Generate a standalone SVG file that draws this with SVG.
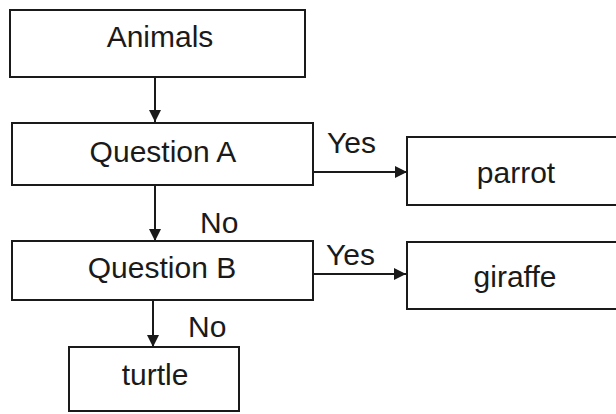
<svg xmlns="http://www.w3.org/2000/svg" width="616" height="414" viewBox="0 0 616 414">
<defs>
<marker id="ah" viewBox="0 0 12 12" refX="12" refY="6" markerWidth="12" markerHeight="12" markerUnits="userSpaceOnUse" orient="auto">
<path d="M0,0 L12,6 L0,12 Z" fill="#1a1a1a"/>
</marker>
</defs>
<style>
.box{fill:#ffffff;stroke:#1a1a1a;stroke-width:2}
.t{font-family:"Liberation Sans",Arial,sans-serif;font-size:30px;fill:#1a1a1a}
.c{text-anchor:middle}
.ln{stroke:#1a1a1a;stroke-width:2;fill:none;marker-end:url(#ah)}
</style>
<rect width="616" height="414" fill="#ffffff"/>
<g id="connectors">
<line class="ln" x1="155" y1="77" x2="155" y2="122"/>
<line class="ln" x1="313" y1="172" x2="407" y2="172"/>
<line class="ln" x1="155" y1="185" x2="155" y2="241"/>
<line class="ln" x1="313" y1="274" x2="406" y2="274"/>
<line class="ln" x1="153" y1="300" x2="153" y2="347"/>
<text class="t" x="327" y="153">Yes</text>
<text class="t" x="326" y="265">Yes</text>
<text class="t" x="200" y="233">No</text>
<text class="t" x="188" y="337">No</text>
</g>
<g id="animals">
<rect class="box" x="10" y="10" width="295" height="67"/>
<text class="t c" x="160" y="47">Animals</text>
</g>
<g id="questionA">
<rect class="box" x="12" y="123" width="301" height="62"/>
<text class="t c" x="163" y="162">Question A</text>
</g>
<g id="parrot">
<rect class="box" x="407" y="137" width="215" height="68"/>
<text class="t c" x="516" y="183">parrot</text>
</g>
<g id="questionB">
<rect class="box" x="12" y="241" width="301" height="59"/>
<text class="t c" x="162" y="278">Question B</text>
</g>
<g id="giraffe">
<rect class="box" x="407" y="242" width="215" height="67"/>
<text class="t c" x="515" y="287">giraffe</text>
</g>
<g id="turtle">
<rect class="box" x="69" y="347" width="170" height="64"/>
<text class="t c" x="155" y="385">turtle</text>
</g>
</svg>
